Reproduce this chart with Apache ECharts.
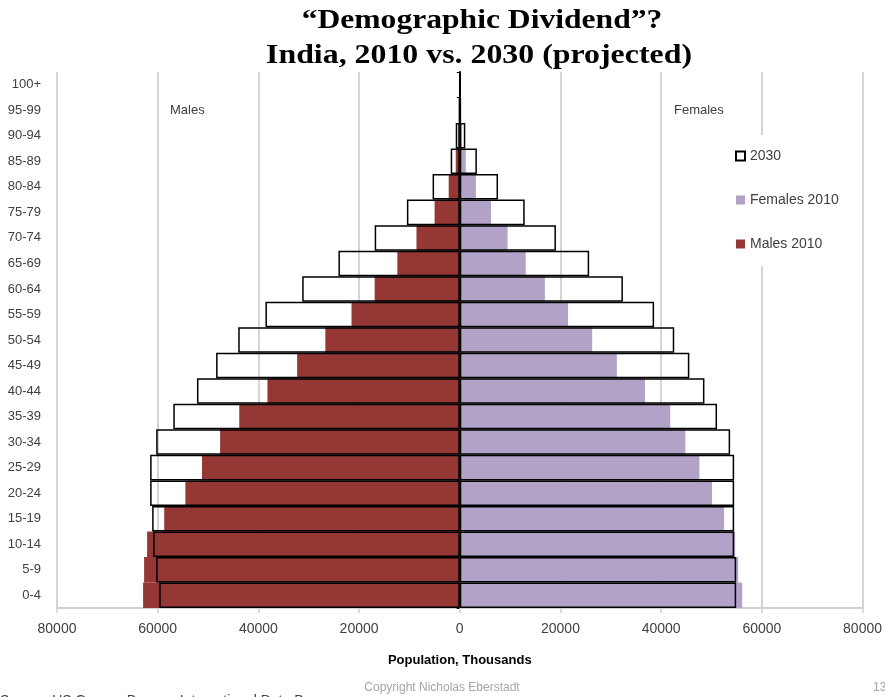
<!DOCTYPE html>
<html>
<head>
<meta charset="utf-8">
<script src="https://cdn.jsdelivr.net/npm/echarts@6/dist/echarts.min.js"></script>
<style>
html,body{margin:0;padding:0;background:#fff;}
#chart{width:885px;height:697px;}
</style>
</head>
<body>
<div id="chart"></div>
<script>
// Age groups, youngest first (bottom of the pyramid)
const ageGroups = ['0-4','5-9','10-14','15-19','20-24','25-29','30-34','35-39','40-44','45-49','50-54','55-59','60-64','65-69','70-74','75-79','80-84','85-89','90-94','95-99','100+'];
// Population, thousands
const males2010   = [62900,62700,62100,58700,54500,51200,47600,43800,38200,32300,26700,21500,16900,12400,8600,5000,2200,800,200,40,5];
const females2010 = [56100,55300,54700,52500,50100,47600,44800,41800,36800,31200,26300,21500,16900,13100,9500,6200,3200,1200,400,80,10];
const males2030   = [59700,60300,60900,61100,61500,61500,60300,56900,52200,48400,44000,38600,31300,24100,16900,10500,5400,1800,800,150,20];
const females2030 = [54900,54900,54500,54500,54500,54500,53700,51100,48600,45600,42600,38600,32400,25700,19100,12900,7600,3400,1100,250,40];
const xTicks = { min: -80000, max: 80000, interval: 20000 };

const chart = echarts.init(document.getElementById('chart'));
const FONT = 'Liberation Sans';
const outline = { color: 'rgba(0,0,0,0)', borderColor: '#000', borderWidth: 1.5 };

chart.setOption({
  backgroundColor: '#fff',
  animation: false,
  grid: { left: 57, right: 22, top: 72, bottom: 89 },
  legend: {
    orient: 'vertical',
    left: 726, top: 135,
    padding: [14, 12, 15, 9],
    backgroundColor: '#fff',
    itemGap: 30,
    itemWidth: 9, itemHeight: 9,
    textStyle: { fontFamily: FONT, fontSize: 14, color: '#404040' },
    data: [
      { name: '2030', icon: 'rect', itemStyle: { color: '#fff', borderColor: '#000', borderWidth: 2 } },
      { name: 'Females 2010', icon: 'rect' },
      { name: 'Males 2010', icon: 'rect' }
    ]
  },
  xAxis: {
    type: 'value',
    min: xTicks.min, max: xTicks.max, interval: xTicks.interval,
    name: 'Population, Thousands',
    nameLocation: 'middle', nameGap: 46,
    nameTextStyle: { fontFamily: FONT, fontSize: 13, fontWeight: 'bold', color: '#000' },
    axisLine: { show: true, lineStyle: { color: '#d0d0d0', width: 2 } },
    axisTick: { show: true, length: 5, lineStyle: { color: '#d0d0d0', width: 1.5 } },
    axisLabel: { fontFamily: FONT, fontSize: 14, color: '#404040', margin: 14,
      formatter: v => String(Math.abs(v)) },
    splitLine: { show: true, lineStyle: { color: '#d4d4d4', width: 2 } }
  },
  yAxis: [
    {
      type: 'category', data: ageGroups, position: 'left',
      axisLine: { show: false, onZero: false },
      axisTick: { show: false },
      axisLabel: { fontFamily: FONT, fontSize: 13, color: '#404040', margin: 16 }
    },
    {
      type: 'category', data: ageGroups, position: 'left',
      axisLine: { show: true, onZero: true, lineStyle: { color: '#000', width: 2 } },
      axisTick: { show: true, length: 3, lineStyle: { color: '#000', width: 1 } },
      axisLabel: { show: false }
    }
  ],
  series: [
    { name: 'Males 2010', type: 'bar', yAxisIndex: 0, barGap: '-100%', barCategoryGap: '0%',
      itemStyle: { color: '#953735' }, data: males2010.map(v => -v) },
    { name: 'Females 2010', type: 'bar', yAxisIndex: 0, barGap: '-100%', barCategoryGap: '0%',
      itemStyle: { color: '#b3a2c7' }, data: females2010 },
    { name: '2030', type: 'bar', yAxisIndex: 0, barGap: '-100%', barCategoryGap: '0%',
      itemStyle: outline, data: males2030.map(v => -v) },
    { name: '2030', type: 'bar', yAxisIndex: 0, barGap: '-100%', barCategoryGap: '0%',
      itemStyle: outline, data: females2030 }
  ],
  graphic: [
    { type: 'text', x: 482, y: 21, scaleX: 1.17, style: { text: '\u201CDemographic Dividend\u201D?', font: 'bold 27px "Liberation Serif"', fill: '#000', textAlign: 'center', textVerticalAlign: 'middle' } },
    { type: 'text', x: 479, y: 56, scaleX: 1.18, style: { text: 'India, 2010 vs. 2030 (projected)', font: 'bold 27px "Liberation Serif"', fill: '#000', textAlign: 'center', textVerticalAlign: 'middle' } },
    { type: 'text', x: 170, y: 110, style: { text: 'Males', font: '13px "Liberation Sans"', fill: '#404040', textVerticalAlign: 'middle' } },
    { type: 'text', x: 674, y: 110, style: { text: 'Females', font: '13px "Liberation Sans"', fill: '#404040', textVerticalAlign: 'middle' } },
    { type: 'text', x: 442, y: 688, style: { text: 'Copyright Nicholas Eberstadt', font: '12px "Liberation Sans"', fill: '#a6a6a6', textAlign: 'center', textVerticalAlign: 'middle' } },
    { type: 'text', x: 873, y: 688, style: { text: '13', font: '12px "Liberation Sans"', fill: '#a6a6a6', textVerticalAlign: 'middle' } },
    { type: 'text', x: 0, y: 694, style: { text: 'Source: US Census Bureau, International Data Base', font: '14px "Liberation Sans"', fill: '#404040', textVerticalAlign: 'top' } }
  ]
});
</script>
</body>
</html>
